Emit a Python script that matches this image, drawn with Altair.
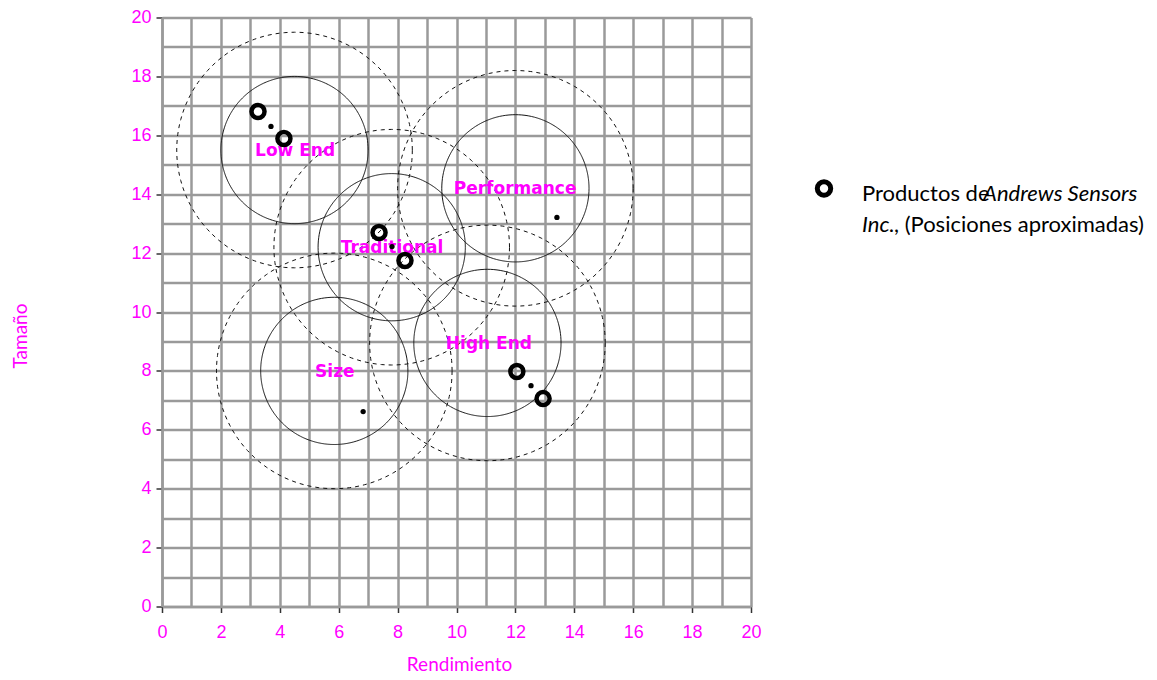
import altair as alt
import pandas as pd

# ---- data ----
segments = ["Low End", "Performance", "Traditional", "Size", "High End"]
center_x = [4.5, 12.0, 7.8, 5.85, 11.05]
center_y = [15.5, 14.2, 12.2, 8.0, 8.95]
ideal_radius = [2.5, 2.5, 2.5, 2.5, 2.5]
outer_radius = [4.0, 4.0, 4.0, 4.0, 4.0]

label_x = [4.52, 11.99, 7.81, 5.87, 11.1]
label_y = [15.45, 14.19, 12.19, 7.95, 8.9]

product_x = [3.26, 4.14, 7.37, 8.25, 12.05, 12.94]
product_y = [16.81, 15.89, 12.7, 11.75, 7.98, 7.06]

dot_x = [3.7, 7.81, 12.53, 6.83, 13.41]
dot_y = [16.3, 12.22, 7.5, 6.62, 13.21]

axis_values = list(range(0, 21))

legend_line1 = ["Productos de", "Andrews Sensors"]
legend_line2 = ["Inc.", ", (Posiciones aproximadas)"]

MAGENTA = "#FF00FF"
GRID = "#9a9a9a"

# ---- tables ----
circles = pd.DataFrame({
    "segment": segments * 2,
    "kind": ["ideal"] * 5 + ["outer"] * 5,
    "cx": center_x * 2,
    "cy": center_y * 2,
    "r": ideal_radius + outer_radius,
})
steps = pd.DataFrame({"step": list(range(0, 145))})
circle_df = circles.merge(steps, how="cross")

labels_df = pd.DataFrame({"segment": segments, "x": label_x, "y": label_y})
products_df = pd.DataFrame({"x": product_x, "y": product_y})
dots_df = pd.DataFrame({"x": dot_x, "y": dot_y})

tick_op = {"condition": {"test": "datum.value % 2 === 0", "value": 1}, "value": 0}

x_scale = alt.Scale(domain=[0, 20], nice=False, zero=False)
y_scale = alt.Scale(domain=[0, 20], nice=False, zero=False)

x_axis = alt.Axis(
    values=axis_values, title="Rendimiento",
    labelExpr="datum.value % 2 === 0 ? datum.label : ''",
    grid=True, gridColor=GRID, gridWidth=2.5, gridOpacity=1,
    domainColor=GRID, domainWidth=2.5,
    tickColor="#333333", tickSize=6, tickWidth=1.5, tickOpacity=tick_op,
    labelColor=MAGENTA, labelFont="Liberation Sans", labelFontSize=18,
    labelPadding=11, labelFlush=False,
    titleColor=MAGENTA, titleFont="Lato", titleFontSize=19, titleFontWeight="normal",
    titleX=297, titleY=58, titleAnchor=None, titleAlign="center", titleBaseline="middle",
)
y_axis = alt.Axis(
    values=axis_values, title="Tamaño",
    labelExpr="datum.value % 2 === 0 ? datum.label : ''",
    grid=True, gridColor=GRID, gridWidth=2.5, gridOpacity=1,
    domainColor=GRID, domainWidth=2.5,
    tickColor="#333333", tickSize=6, tickWidth=1.5, tickOpacity=tick_op,
    labelColor=MAGENTA, labelFont="Liberation Sans", labelFontSize=18,
    labelPadding=5, labelFlush=False,
    titleColor=MAGENTA, titleFont="Lato", titleFontSize=19, titleFontWeight="normal",
    titleX=-142, titleY=318, titleAngle=-90, titleAlign="center", titleBaseline="middle",
)


def X(field):
    return alt.X(field, type="quantitative", scale=x_scale, axis=x_axis)


def Y(field):
    return alt.Y(field, type="quantitative", scale=y_scale, axis=y_axis)


circle_layer = alt.Chart(circle_df).transform_calculate(
    px="datum.cx + datum.r * cos(2 * PI * datum.step / 144)",
    py="datum.cy + datum.r * sin(2 * PI * datum.step / 144)",
    key="datum.segment + '-' + datum.kind",
).mark_line(color="#111111", strokeWidth=1).encode(
    x=X("px"), y=Y("py"),
    detail="key:N",
    order="step:Q",
    strokeDash=alt.StrokeDash(
        "kind:N",
        scale=alt.Scale(domain=["ideal", "outer"], range=[[1, 0], [4, 4]]),
        legend=None,
    ),
)

label_layer = alt.Chart(labels_df).mark_text(
    font="DejaVu Sans", fontWeight="bold", fontSize=17, color=MAGENTA,
    align="center", baseline="middle",
).encode(x=X("x"), y=Y("y"), text="segment:N")

ring_layer = alt.Chart(products_df).mark_point(
    shape="circle", filled=False, size=170, strokeWidth=4.5, color="black", opacity=1,
).encode(x=X("x"), y=Y("y"))

dot_layer = alt.Chart(dots_df).mark_circle(size=28, color="black", opacity=1).encode(
    x=X("x"), y=Y("y")
)

# ---- legend (custom, mixed italic text) ----
one = pd.DataFrame({"k": [0]})
legend_ring = alt.Chart(one).mark_point(
    shape="circle", filled=False, size=180, strokeWidth=5, color="black", opacity=1
).encode(x=alt.value(662), y=alt.value(171))

text_style = dict(font="Lato", fontSize=22, color="black", align="left", baseline="alphabetic")
leg_t1 = alt.Chart(one).mark_text(**text_style, text=legend_line1[0]).encode(
    x=alt.value(700), y=alt.value(183))
leg_t2 = alt.Chart(one).mark_text(**text_style, fontStyle="italic", text=legend_line1[1]).encode(
    x=alt.value(821), y=alt.value(183))
leg_t3 = alt.Chart(one).mark_text(**text_style, fontStyle="italic", text=legend_line2[0]).encode(
    x=alt.value(700), y=alt.value(214))
leg_t4 = alt.Chart(one).mark_text(**text_style, text=legend_line2[1]).encode(
    x=alt.value(732), y=alt.value(214))

chart = alt.layer(
    circle_layer, label_layer, ring_layer, dot_layer,
    legend_ring, leg_t1, leg_t2, leg_t3, leg_t4,
).properties(
    width=589, height=589,
    autosize=alt.AutoSizeParams(type="none"),
    padding={"left": 154, "top": 9.5, "right": 398, "bottom": 67},
    background="white",
).configure_view(stroke=None)

chart.save("out.html", embed_options={"renderer": "svg", "actions": False})
